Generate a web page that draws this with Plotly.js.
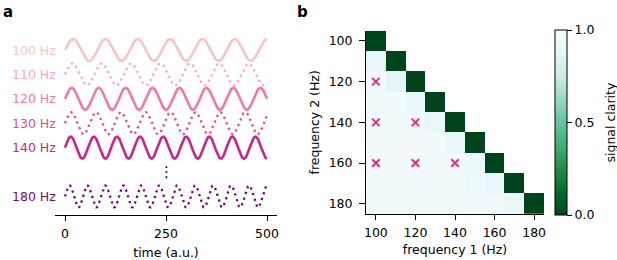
<!DOCTYPE html>
<html><head><meta charset="utf-8">
<script src="https://cdn.plot.ly/plotly-3.0.1.min.js"></script>
<style>html,body{margin:0;padding:0;background:#fff}</style>
</head><body><div id="chart" style="width:617px;height:260px"></div>
<script>
// ---- panel a data ----
const waveFreqs  = [100, 110, 120, 130, 140, 180];
const waveRows   = [0, 1, 2, 3, 4, 6];
const waveDash   = ['solid', 'dot', 'solid', 'dot', 'solid', 'dot'];
const waveColors = ['#f9c4c4', '#f7a8c0', '#f07aa7', '#e04a9c', '#c7258f', '#720b73'];
const waveLabels = ['100 Hz', '110 Hz', '120 Hz', '130 Hz', '140 Hz', '180 Hz'];
const timeTicks  = [0, 250, 500];
const timeMax    = 500;
const samplesPerSecond = 8000;   // read from the periods (100 Hz -> 80 a.u.)
const gapRow     = 5;            // vertical ellipsis row

// ---- panel b data ----
const freqs = [100, 110, 120, 130, 140, 150, 160, 170, 180];
const freqTicks = [100, 120, 140, 160, 180];
const clarity = [
  [0,    null, null, null, null, null, null, null, null],
  [0.90, 0,    null, null, null, null, null, null, null],
  [0.96, 0.87, 0,    null, null, null, null, null, null],
  [0.97, 0.97, 0.91, 0,    null, null, null, null, null],
  [0.96, 0.97, 0.96, 0.91, 0,    null, null, null, null],
  [0.97, 0.97, 0.97, 0.97, 0.91, 0,    null, null, null],
  [0.97, 0.97, 0.96, 0.95, 0.96, 0.92, 0,    null, null],
  [0.97, 0.97, 0.97, 0.97, 0.96, 0.94, 0.91, 0,    null],
  [0.97, 0.97, 0.97, 0.97, 0.97, 0.96, 0.96, 0.90, 0   ]
];
const markF1 = [100, 100, 120, 100, 120, 140];
const markF2 = [120, 140, 140, 160, 160, 160];
const clarityTicks = [0, 0.5, 1];
const clarityTickText = ['0.0', '0.5', '1.0'];

const W = 617, H = 260;
const FONT = 'DejaVu Sans, sans-serif';
const FS = 12.5;
const fx = p => p / W;
const fy = p => 1 - p / H;

const traces = [];
const t = [];
for (let i = 0; i <= timeMax; i++) t.push(i);
const amp = 0.45;
waveFreqs.forEach((f, k) => {
  traces.push({
    type: 'scatter', mode: 'lines', x: t,
    y: t.map(v => -waveRows[k] + amp * Math.sin(2 * Math.PI * f * v / samplesPerSecond)),
    line: {color: waveColors[k], width: waveDash[k] === 'solid' ? 2.6 : 2.3,
           dash: waveDash[k] === 'solid' ? 'solid' : '2.3px,3.7px'},
    hoverinfo: 'skip', showlegend: false, xaxis: 'x', yaxis: 'y'
  });
});

const BuGnR = [
  [0, '#00441b'], [0.125, '#006d2c'], [0.25, '#238b45'], [0.375, '#41ae76'],
  [0.5, '#66c2a4'], [0.625, '#99d8c9'], [0.75, '#ccece6'], [0.875, '#e5f5f9'], [1, '#f7fcfd']
];
traces.push({
  type: 'heatmap', x: freqs, y: freqs, z: clarity, zmin: 0, zmax: 1,
  colorscale: BuGnR, xaxis: 'x2', yaxis: 'y2', hoverinfo: 'skip',
  colorbar: {
    x: fx(555), xanchor: 'left', xpad: 0, ypad: 0,
    y: fy(122.5), yanchor: 'middle',
    thickness: 12, thicknessmode: 'pixels', len: 185 / H, lenmode: 'fraction',
    outlinewidth: 1, outlinecolor: '#000',
    tickvals: clarityTicks, ticktext: clarityTickText,
    ticks: 'outside', ticklen: 5, tickwidth: 1, tickcolor: '#000',
    ticklabelstandoff: 2,
    tickfont: {family: FONT, size: FS, color: '#000'},
    title: {text: ''}
  }
});
traces.push({
  type: 'scatter', mode: 'markers', x: markF1, y: markF2, xaxis: 'x2', yaxis: 'y2',
  marker: {symbol: 'x-thin', size: 7.5, line: {color: '#e7298a', width: 2}},
  hoverinfo: 'skip', showlegend: false
});

const annotations = waveLabels.map((s, k) => ({
  text: s, x: -18, y: -waveRows[k], xref: 'x', yref: 'y', xanchor: 'right', yanchor: 'middle',
  showarrow: false, font: {family: FONT, size: FS, color: waveColors[k]}
}));
annotations.push({text: '⋮', x: 250, y: -gapRow, xref: 'x', yref: 'y', xanchor: 'center', yanchor: 'middle',
  showarrow: false, font: {family: FONT, size: 15, color: '#000'}});
annotations.push({text: '<b>a</b>', x: fx(1), y: fy(1), xref: 'paper', yref: 'paper', xanchor: 'left', yanchor: 'top',
  showarrow: false, font: {family: FONT, size: 15, color: '#000'}});
annotations.push({text: '<b>b</b>', x: fx(295), y: fy(1), xref: 'paper', yref: 'paper', xanchor: 'left', yanchor: 'top',
  showarrow: false, font: {family: FONT, size: 15, color: '#000'}});
annotations.push({text: 'signal clarity', x: fx(610), y: fy(122.5), xref: 'paper', yref: 'paper',
  xanchor: 'center', yanchor: 'middle', textangle: -90,
  showarrow: false, font: {family: FONT, size: FS, color: '#000'}});

const axFont = {family: FONT, size: FS, color: '#000'};
const layout = {
  width: W, height: H, margin: {l: 0, r: 0, t: 0, b: 0},
  paper_bgcolor: '#fff', plot_bgcolor: 'rgba(0,0,0,0)',
  font: {family: FONT, size: FS, color: '#000'},
  showlegend: false,
  xaxis: {
    domain: [fx(54.9), fx(277.1)], range: [-25, 525], anchor: 'y',
    showline: true, linecolor: '#000', linewidth: 1, showgrid: false, zeroline: false,
    ticks: 'outside', ticklen: 5, tickwidth: 1, tickcolor: '#000', ticklabelstandoff: 2,
    tickvals: timeTicks, tickfont: axFont,
    title: {text: 'time (a.u.)', font: axFont, standoff: 9}
  },
  yaxis: {
    domain: [fy(215), fy(30)], range: [-6.76, 0.82], anchor: 'x', visible: false
  },
  xaxis2: {
    domain: [fx(366), fx(544)], range: [95, 185], anchor: 'y2',
    showline: true, linecolor: '#000', linewidth: 1, showgrid: false, zeroline: false,
    ticks: 'outside', ticklen: 5, tickwidth: 1, tickcolor: '#000', ticklabelstandoff: 2,
    tickvals: freqTicks, tickfont: axFont,
    title: {text: 'frequency 1 (Hz)', font: axFont, standoff: 6}
  },
  yaxis2: {
    domain: [fy(214), fy(30.7)], range: [185, 95], anchor: 'x2',
    showline: true, linecolor: '#000', linewidth: 1, showgrid: false, zeroline: false,
    ticks: 'outside', ticklen: 6, tickwidth: 1, tickcolor: '#000', ticklabelstandoff: 4,
    tickvals: freqTicks, tickfont: axFont,
    title: {text: 'frequency 2 (Hz)', font: axFont, standoff: 6}
  },
  annotations: annotations
};

Plotly.newPlot('chart', traces, layout, {staticPlot: true, displayModeBar: false});
</script>
</body></html>
